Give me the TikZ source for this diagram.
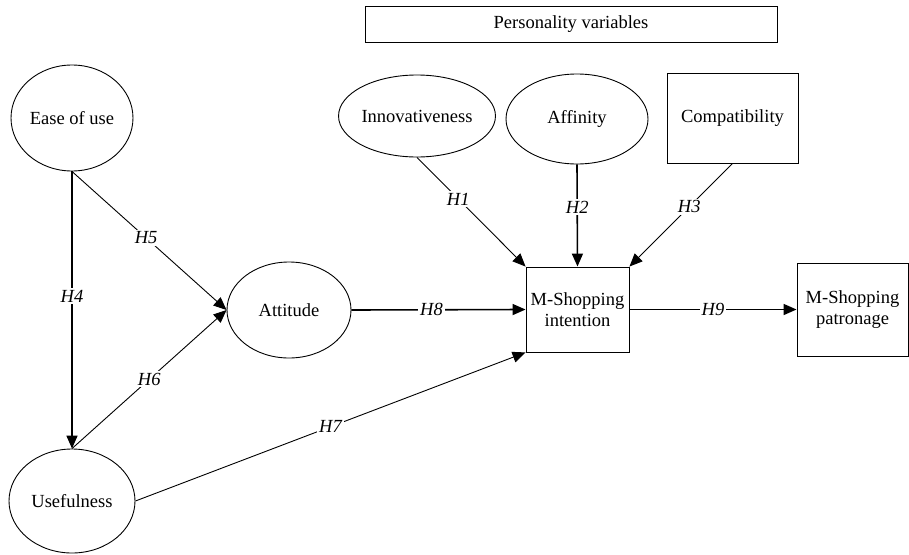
\documentclass[tikz,border=0pt]{standalone}
\usepackage{fontspec}
\setmainfont{Liberation Serif}
\usetikzlibrary{arrows.meta,shapes.geometric}
\begin{document}
\begin{tikzpicture}[x=1pt,y=-1pt,
  every node/.style={font=\fontsize{18.5}{21}\selectfont},
  ell/.style={draw,ellipse,line width=0.9pt,inner sep=0pt},
  boxn/.style={draw,rectangle,line width=0.9pt,inner sep=0pt,align=center},
  arr/.style={line width=0.9pt,-{Triangle[length=13pt,width=11pt]}},
  arrt/.style={line width=1.6pt,-{Triangle[length=13pt,width=11pt]}},
  lab/.style={fill=white,inner sep=2pt,font=\fontsize{18.5}{21}\selectfont\itshape}]
\useasboundingbox (0,0) rectangle (909,554);
\node[boxn,minimum width=412pt,minimum height=36pt] (pv) at (571,24) {Personality variables};
\node[ell,minimum width=122pt,minimum height=106pt] (ease) at (72,118) {Ease of use};
\node[ell,minimum width=126pt,minimum height=104pt] (use) at (72,501) {Usefulness};
\node[ell,minimum width=124pt,minimum height=96pt] (att) at (289,310) {Attitude};
\node[ell,minimum width=148pt,minimum height=82pt] (inn) at (417,116) {Innovativeness};
\node[ell,minimum width=142pt,minimum height=90pt] (aff) at (577,119) {Affinity};
\node[boxn,minimum width=131pt,minimum height=90pt] (comp) at (732.5,118) {Compatibility};
\node[boxn,minimum width=103pt,minimum height=85pt] (int) at (577.5,309.5) {M-Shopping\\intention};
\node[boxn,minimum width=111pt,minimum height=93pt] (pat) at (852.5,309.5) {M-Shopping\\patronage};
\draw[arrt] (ease.south) -- node[lab,pos=0.45] {H4} (use.north);
\draw[arr] (ease.south) -- node[lab,pos=0.48] {H5} (att.west);
\draw[arr] (use.north) -- node[lab,pos=0.5] {H6} (att.west);
\draw[arr] (use.east) -- node[lab,pos=0.5] {H7} (int.south west);
\draw[arrt] (att.east) -- node[lab,pos=0.46] {H8} (int.west);
\draw[arrt] (int.east) -- node[lab,pos=0.5] {H9} (pat.west);
\draw[arr] (inn.south) -- node[lab,pos=0.38] {H1} (int.north west);
\draw[arrt] (aff.south) -- node[lab,pos=0.42] {H2} (int.north);
\draw[arr] (comp.south) -- node[lab,pos=0.42] {H3} (int.north east);
\end{tikzpicture}
\end{document}
